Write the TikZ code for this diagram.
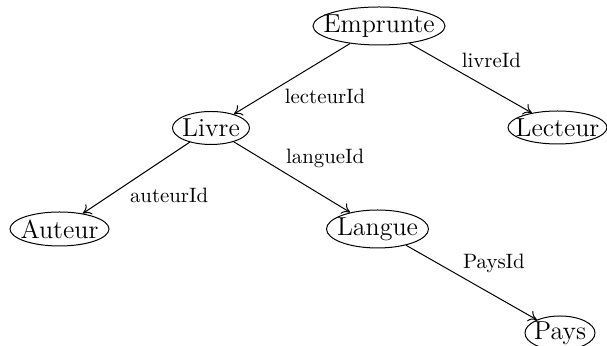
\documentclass[tikz,border=0pt]{standalone}
\usetikzlibrary{shapes.geometric,arrows.meta}
\begin{document}
\begin{tikzpicture}[x=0.5pt,y=-0.5pt,
  ent/.style={ellipse,draw,line width=0.5pt,inner sep=-20pt,minimum height=17pt,
    font=\fontsize{13}{15}\selectfont},
  rel/.style={draw,line width=0.5pt,-{To[length=4pt,width=6pt]}},
  lbl/.style={font=\fontsize{10.4}{12}\selectfont,inner sep=1.5pt}]
\useasboundingbox (0,0) rectangle (607,346);
\node[ent,minimum width=66pt,minimum height=19pt] (emp) at (379,26) {Emprunte};
\node[ent,minimum width=38.5pt,minimum height=16.5pt] (liv) at (211,128) {Livre};
\node[ent,minimum width=49.5pt,minimum height=16.5pt] (lec) at (557.5,127.5) {Lecteur};
\node[ent,minimum width=49.5pt] (aut) at (59.5,229) {Auteur};
\node[ent,minimum width=51pt,minimum height=19pt] (lan) at (377.5,229) {Langue};
\node[ent,minimum width=35pt] (pay) at (560,333) {Pays};
\draw[rel] (emp) -- node[lbl,pos=0.59,anchor=north west]{lecteurId} (liv);
\draw[rel] (emp) -- node[lbl,pos=0.4,anchor=south west]{livreId} (lec);
\draw[rel] (liv) -- node[lbl,pos=0.59,anchor=north west]{auteurId} (aut);
\draw[rel] (liv) -- node[lbl,pos=0.42,anchor=south west]{langueId} (lan);
\draw[rel] (lan) -- node[lbl,pos=0.41,anchor=south west]{PaysId} (pay);
\end{tikzpicture}
\end{document}
